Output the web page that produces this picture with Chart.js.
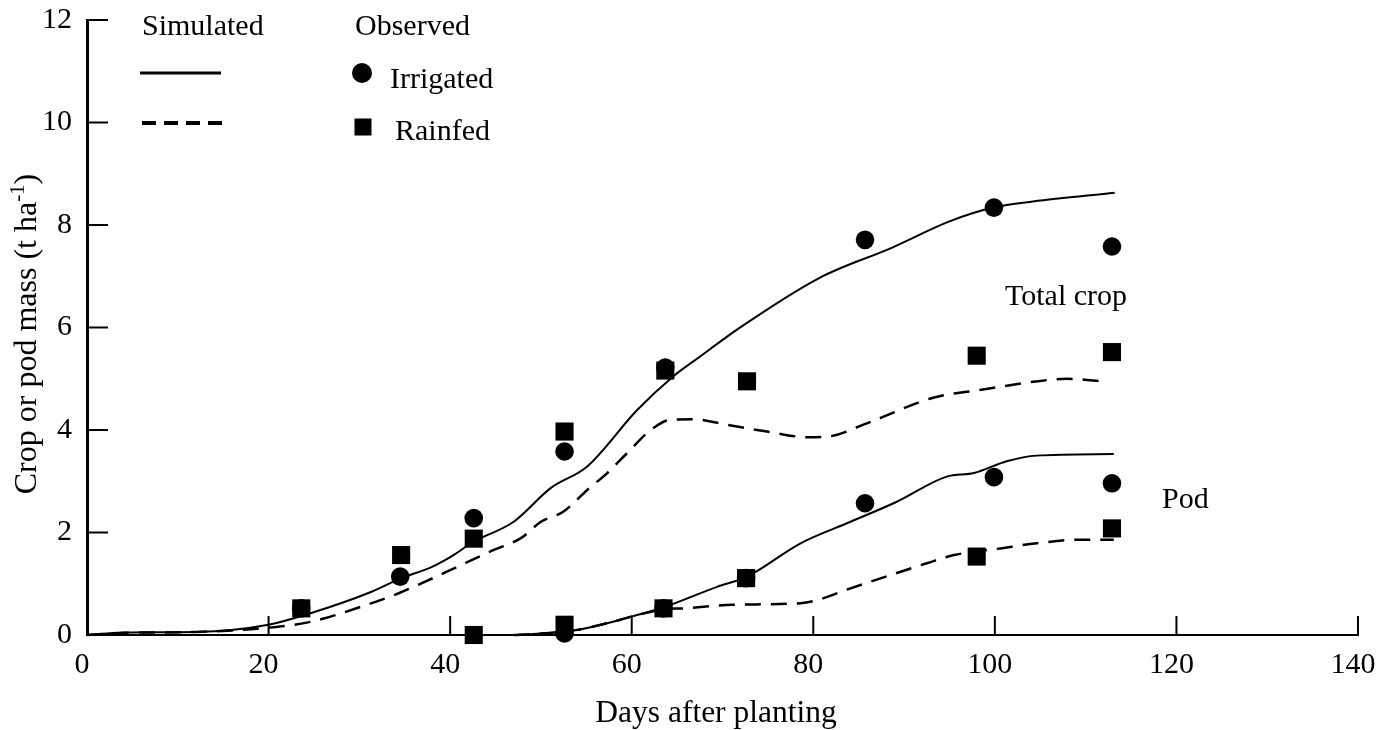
<!DOCTYPE html>
<html>
<head>
<meta charset="utf-8">
<script src="https://cdn.jsdelivr.net/npm/chart.js@4.4.1/dist/chart.umd.min.js"></script>
<style>
  html, body { margin: 0; padding: 0; background: #fff; }
  #wrap { width: 1390px; height: 730px; position: relative; }
</style>
</head>
<body>
<div id="wrap"><canvas id="growthChart"></canvas></div>
<script>
// --- DATA ---
const xTicks = [0, 20, 40, 60, 80, 100, 120, 140];
const yTicks = [0, 2, 4, 6, 8, 10, 12];

// Simulated curves (days after planting, t/ha)
const irrTotalSimDays = [0, 4, 12, 20, 24.7, 31, 34.5, 38, 40.1, 42.6, 47, 51.1, 55.1, 60.6, 64.6, 67.5, 71.6, 80.7, 88.7, 95, 99.8, 104.2, 113.2];
const irrTotalSim     = [0, 0.05, 0.06, 0.2, 0.43, 0.82, 1.1, 1.33, 1.53, 1.82, 2.21, 2.87, 3.29, 4.39, 5.05, 5.43, 5.96, 6.97, 7.56, 8.07, 8.34, 8.46, 8.63];

const rainTotalSimDays = [0, 4, 12, 19.8, 24.7, 31, 34.4, 39.7, 44.8, 47.8, 50, 52.5, 55.1, 57.3, 59.5, 62.1, 64.3, 66.8, 70.5, 74.9, 79.3, 81.5, 85.9, 93.2, 98.7, 104.2, 107.9, 112.3];
const rainTotalSim     = [0, 0.04, 0.06, 0.14, 0.26, 0.6, 0.82, 1.24, 1.66, 1.89, 2.21, 2.41, 2.83, 3.16, 3.55, 4.0, 4.2, 4.21, 4.1, 3.97, 3.86, 3.87, 4.13, 4.63, 4.79, 4.94, 5.0, 4.94];

const irrPodSimDays = [47, 49.2, 54, 57.3, 60.6, 63.5, 69.4, 72.7, 78.6, 84.1, 89.2, 94.7, 97.7, 101.3, 104.6, 113.1];
const irrPodSim     = [0, 0.02, 0.1, 0.23, 0.39, 0.54, 0.94, 1.14, 1.79, 2.21, 2.6, 3.09, 3.16, 3.39, 3.5, 3.53];

const rainPodSimDays = [47, 49.2, 54, 57.3, 60.6, 63.5, 65.7, 71.2, 78.6, 80.4, 84.1, 88.5, 92.5, 95.5, 100.6, 104.6, 109.4, 113.1];
const rainPodSim     = [0, 0.02, 0.1, 0.23, 0.39, 0.5, 0.52, 0.59, 0.62, 0.68, 0.91, 1.17, 1.4, 1.56, 1.69, 1.79, 1.86, 1.86];

// Observed
const irrTotalDays  = [23.6, 34.5, 42.6, 52.6, 63.7, 85.7, 99.9, 112.9];
const irrTotal      = [0.52, 1.14, 2.28, 3.58, 5.22, 7.71, 8.34, 7.58];
const rainTotalDays = [23.6, 34.6, 42.6, 52.6, 63.7, 72.7, 98, 112.9];
const rainTotal     = [0.52, 1.56, 1.88, 3.97, 5.16, 4.95, 5.45, 5.52];
const irrPodDays    = [52.6, 63.5, 72.6, 85.7, 99.9, 112.9];
const irrPod        = [0.03, 0.52, 1.11, 2.57, 3.08, 2.96];
const rainPodDays   = [42.6, 52.6, 63.5, 72.6, 98, 112.9];
const rainPod       = [0, 0.2, 0.52, 1.11, 1.53, 2.08];

const FONT = "'Liberation Serif', 'Times New Roman', serif";

function pts(days, vals) {
    return days.map((d, i) => ({ x: d, y: vals[i] }));
}

function simLine(days, vals, dashed) {
    return {
        type: 'line',
        data: pts(days, vals),
        borderColor: '#000',
        borderWidth: dashed ? 2.5 : 2,
        borderDash: dashed ? [16, 10] : [],
        pointRadius: 0,
        cubicInterpolationMode: 'monotone',
        fill: false,
        clip: false
    };
}

function obs(days, vals, style) {
    return {
        type: 'scatter',
        data: pts(days, vals),
        pointStyle: style,
        pointRadius: style === 'rect' ? 12.8 : 9.3,
        backgroundColor: '#000',
        borderColor: '#000',
        borderWidth: 0,
        clip: false
    };
}

// --- OVERLAY: inward ticks, legend, labels ---
const overlay = {
    id: 'overlay',
    afterDraw(chart) {
        const ctx = chart.ctx;
        const xs = chart.scales.x;
        const ys = chart.scales.y;
        const area = chart.chartArea;

        ctx.save();
        ctx.strokeStyle = '#000';
        ctx.fillStyle = '#000';
        ctx.lineWidth = 2;

        // tick marks point into the plot
        xTicks.forEach(v => {
            if (v === 0) return;
            const px = xs.getPixelForValue(v);
            ctx.beginPath();
            ctx.moveTo(px, area.bottom);
            ctx.lineTo(px, area.bottom - 19);
            ctx.stroke();
        });
        yTicks.forEach(v => {
            if (v === 0) return;
            const py = ys.getPixelForValue(v);
            ctx.beginPath();
            ctx.moveTo(area.left, py);
            ctx.lineTo(area.left + 21, py);
            ctx.stroke();
        });

        ctx.font = '30px ' + FONT;
        ctx.textAlign = 'left';
        ctx.textBaseline = 'alphabetic';

        // legend
        ctx.fillText('Simulated', 142, 35);
        ctx.fillText('Observed', 355, 35);

        ctx.lineWidth = 3;
        ctx.beginPath();
        ctx.moveTo(140, 73);
        ctx.lineTo(221, 73);
        ctx.stroke();

        ctx.lineWidth = 4;
        ctx.setLineDash([14, 8]);
        ctx.beginPath();
        ctx.moveTo(142, 123);
        ctx.lineTo(222, 123);
        ctx.stroke();
        ctx.setLineDash([]);

        ctx.beginPath();
        ctx.arc(362, 73, 10, 0, Math.PI * 2);
        ctx.fill();
        ctx.fillText('Irrigated', 390, 88);

        ctx.fillRect(354.5, 118.5, 17, 17);
        ctx.fillText('Rainfed', 395, 140);

        // curve labels
        ctx.fillText('Total crop', 1005, 305);
        ctx.fillText('Pod', 1162, 508);

        // x title
        ctx.font = '31.5px ' + FONT;
        ctx.textAlign = 'center';
        ctx.fillText('Days after planting', 716, 722);

        // y title with superscript
        ctx.translate(36, 334);
        ctx.rotate(-Math.PI / 2);
        const main = 'Crop or pod mass (t ha';
        const sup = '-1';
        const tail = ')';
        ctx.font = '32px ' + FONT;
        const wMain = ctx.measureText(main).width;
        const wTail = ctx.measureText(tail).width;
        ctx.font = '21px ' + FONT;
        const wSup = ctx.measureText(sup).width;
        const start = -(wMain + wSup + wTail) / 2;
        ctx.textAlign = 'left';
        ctx.font = '32px ' + FONT;
        ctx.fillText(main, start, 0);
        ctx.font = '21px ' + FONT;
        ctx.fillText(sup, start + wMain, -12);
        ctx.font = '32px ' + FONT;
        ctx.fillText(tail, start + wMain + wSup, 0);

        ctx.restore();
    }
};

// --- CHART ---
new Chart(document.getElementById('growthChart'), {
    data: {
        datasets: [
            simLine(irrTotalSimDays, irrTotalSim, false),
            simLine(rainTotalSimDays, rainTotalSim, true),
            simLine(irrPodSimDays, irrPodSim, false),
            simLine(rainPodSimDays, rainPodSim, true),
            obs(irrTotalDays, irrTotal, 'circle'),
            obs(irrPodDays, irrPod, 'circle'),
            obs(rainTotalDays, rainTotal, 'rect'),
            obs(rainPodDays, rainPod, 'rect')
        ]
    },
    options: {
        responsive: true,
        maintainAspectRatio: false,
        animation: false,
        layout: { padding: { top: 20, right: 32, left: 0, bottom: 0 } },
        plugins: {
            legend: { display: false },
            tooltip: { enabled: false }
        },
        scales: {
            x: {
                type: 'linear',
                min: 0,
                max: 140,
                afterBuildTicks: s => { s.ticks = xTicks.map(v => ({ value: v })); },
                afterFit: s => { s.height = 95; s.paddingLeft = 0; s.paddingRight = 0; },
                grid: { display: false, drawTicks: false },
                border: { display: true, color: '#000', width: 2 },
                ticks: { color: '#000', font: { family: FONT, size: 30 }, padding: 12, labelOffset: -5, maxRotation: 0 }
            },
            y: {
                type: 'linear',
                min: 0,
                max: 12,
                afterBuildTicks: s => { s.ticks = yTicks.map(v => ({ value: v })); },
                afterFit: s => { s.width = 87; s.paddingTop = 0; s.paddingBottom = 0; },
                grid: { display: false, drawTicks: false },
                border: { display: true, color: '#000', width: 3 },
                ticks: { color: '#000', font: { family: FONT, size: 30 }, padding: 15 }
            }
        }
    },
    plugins: [overlay]
});
</script>
</body>
</html>
